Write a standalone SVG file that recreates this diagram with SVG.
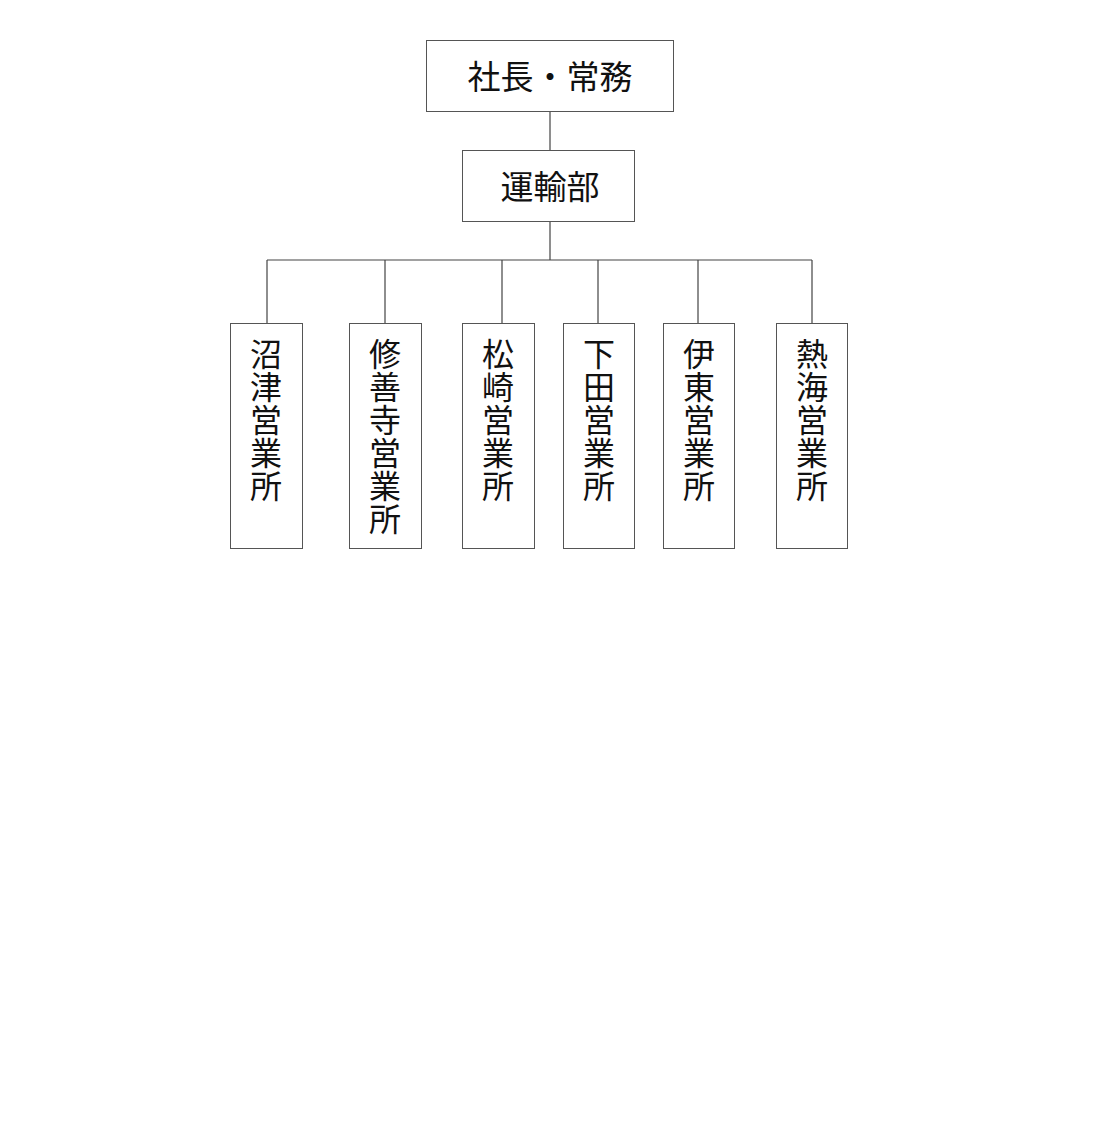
<svg xmlns="http://www.w3.org/2000/svg" width="1100" height="1130" viewBox="0 0 1100 1130">
<style>
.box{fill:#fff;stroke:#555;stroke-width:1}
.ln{stroke:#444;stroke-width:1.2;fill:none}
.t{font-family:"Noto Sans CJK JP","Noto Sans",sans-serif;font-size:33px;fill:#111;text-anchor:middle}
.c{font-family:"Noto Sans CJK JP","Noto Sans",sans-serif;font-size:32px;fill:#111;text-anchor:middle;dominant-baseline:central}
</style>
<rect width="1100" height="1130" fill="#fff"/>
<g id="connectors">
<path class="ln" d="M550 111V150M550 221V260M267 260H812M267 260V323M385 260V323M502 260V323M598 260V323M698 260V323M812 260V323"/>
</g>
<g id="n-president"><rect class="box" x="426.5" y="40.5" width="247" height="71"/><text class="t" x="550" y="89">社長・常務</text></g>
<g id="n-transport"><rect class="box" x="462.5" y="150.5" width="172" height="71"/><text class="t" x="550" y="199">運輸部</text></g>
<g id="n-numazu"><rect class="box" x="230.5" y="323.5" width="72" height="225"/>
<text class="c"><tspan x="266" y="352">沼</tspan><tspan x="266" y="385">津</tspan><tspan x="266" y="418">営</tspan><tspan x="266" y="451">業</tspan><tspan x="266" y="484">所</tspan></text></g>
<g id="n-shuzenji"><rect class="box" x="349.5" y="323.5" width="72" height="225"/>
<text class="c"><tspan x="385" y="352">修</tspan><tspan x="385" y="385">善</tspan><tspan x="385" y="418">寺</tspan><tspan x="385" y="451">営</tspan><tspan x="385" y="484">業</tspan><tspan x="385" y="517">所</tspan></text></g>
<g id="n-matsuzaki"><rect class="box" x="462.5" y="323.5" width="72" height="225"/>
<text class="c"><tspan x="498" y="352">松</tspan><tspan x="498" y="385">崎</tspan><tspan x="498" y="418">営</tspan><tspan x="498" y="451">業</tspan><tspan x="498" y="484">所</tspan></text></g>
<g id="n-shimoda"><rect class="box" x="563.5" y="323.5" width="71" height="225"/>
<text class="c"><tspan x="599" y="352">下</tspan><tspan x="599" y="385">田</tspan><tspan x="599" y="418">営</tspan><tspan x="599" y="451">業</tspan><tspan x="599" y="484">所</tspan></text></g>
<g id="n-ito"><rect class="box" x="663.5" y="323.5" width="71" height="225"/>
<text class="c"><tspan x="699" y="352">伊</tspan><tspan x="699" y="385">東</tspan><tspan x="699" y="418">営</tspan><tspan x="699" y="451">業</tspan><tspan x="699" y="484">所</tspan></text></g>
<g id="n-atami"><rect class="box" x="776.5" y="323.5" width="71" height="225"/>
<text class="c"><tspan x="812" y="352">熱</tspan><tspan x="812" y="385">海</tspan><tspan x="812" y="418">営</tspan><tspan x="812" y="451">業</tspan><tspan x="812" y="484">所</tspan></text></g>
</svg>
